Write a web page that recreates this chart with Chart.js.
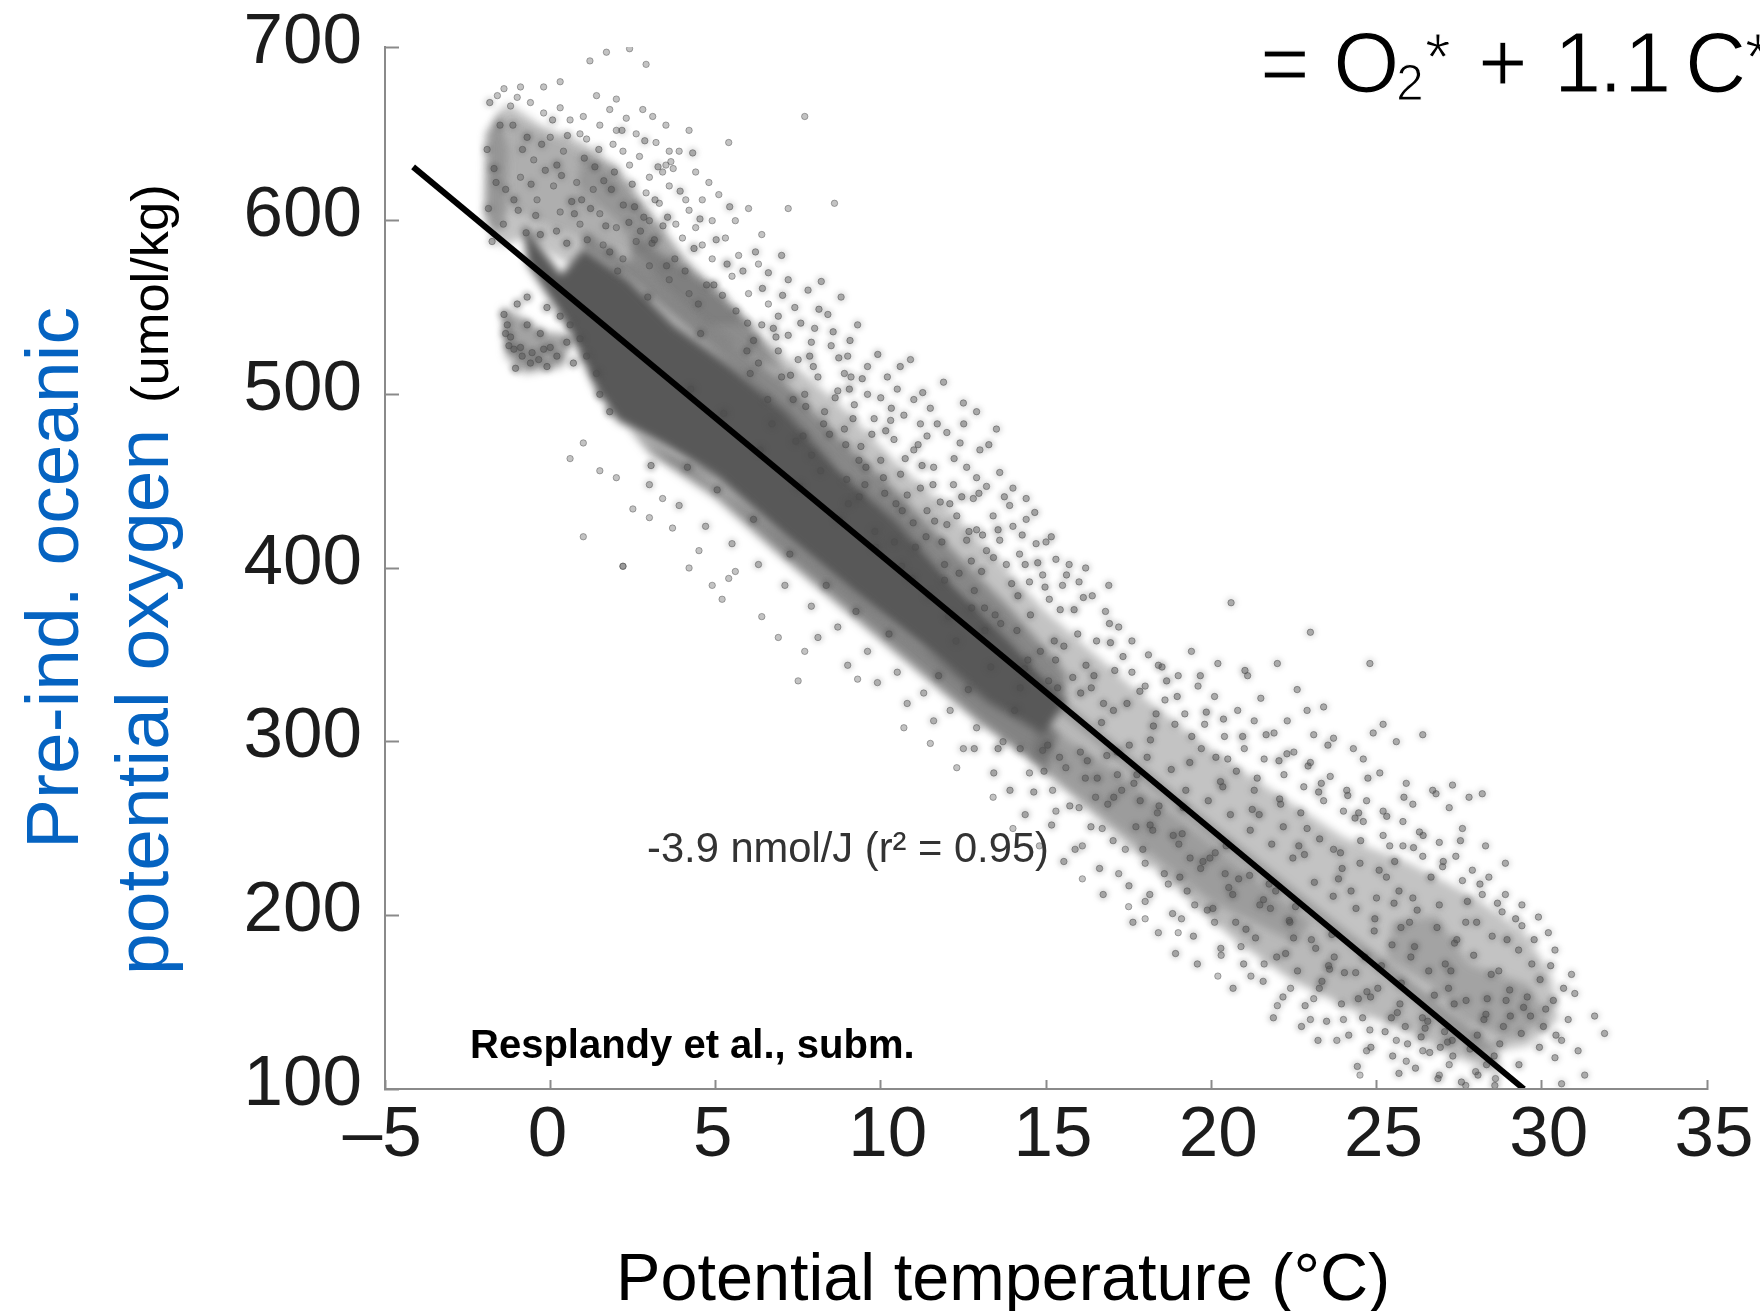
<!DOCTYPE html>
<html><head><meta charset="utf-8">
<style>html,body{margin:0;padding:0;background:#fff}canvas{display:block;filter:blur(.55px)}</style>
<script src="https://cdn.jsdelivr.net/npm/chart.js@4"></script></head>
<body><canvas id="c" width="1760" height="1311"></canvas>
<script>
const xTicks=[-5,0,5,10,15,20,25,30,35];
const xTickLabels=["–5","0","5","10","15","20","25","30","35"];
const yTicks=[100,200,300,400,500,600,700];
const fitLine=[[-4.15,631],[29.46,100]];
// dense regions of the cloud, read as outlines
const coreOutline=[[-0.82,598],[0.33,569],[1.01,584],[2.37,566],[3.73,540],[5.42,517],[7.12,491],[8.82,456],[10.52,427],[12.22,391],[13.91,359],[15.61,323],[14.93,304],[13.23,323],[11.2,356],[9.16,386],[7.12,418],[5.08,452],[3.39,471],[2.03,485],[1.35,504],[0.5,540],[-0.69,575]];
const coldEdgeOutline=[[-1.95,605],[-1.9,650],[-1.5,664],[-1.25,640],[-1.3,605],[-1.7,590]];
const upperOutline=[[-2,600],[-1.95,650],[-1.3,668],[-0.3,655],[1,645],[2,630],[3,605],[4,580],[5,560],[6,540],[7.5,515],[9,490],[10.5,460],[12,435],[13.5,405],[15,375],[16.5,350],[18,325],[20,295],[22,270],[24,245],[26,230],[28,210],[29.5,190],[30.3,165],[30.5,140],[29.6,125],[28,120],[24,186],[20,245],[16,308],[13,355],[10,400],[5,470],[2,520],[1,570],[-0.8,590],[-1.5,585]];
const lowerOutline=[[3,468],[5,445],[7,410],[9,378],[11,346],[13,313],[14.5,290],[16,265],[17.5,240],[19,215],[20.7,186],[22.4,163],[24.1,147],[25.8,134],[27.5,118],[28.8,108],[28.6,124],[24,192],[20,253],[16,316],[12,384],[8,444]];
const upperFringeOutline=[[1,594],[2.4,577],[3.8,554],[5.4,532],[7.1,507],[8.8,474],[10.5,444],[12.2,410],[13.9,377],[15.6,340],[15.6,323],[12.2,391],[8.8,456],[5.4,517],[2.4,566],[1,584]];
const lowerFringeOutline=[[2.4,480],[3,466],[5,440],[7,406],[9,374],[11,342],[13,310],[15,284],[15.4,305],[11.2,356],[7.1,418],[3.4,471]];
const coldRidgeOutline=[[1,640],[2,632],[3.2,600],[4.3,572],[5.4,555],[6,540],[4.8,540],[3.3,565],[2,600],[0.8,620]];
const coldClusterOutline=[[-1.45,550],[-1.35,522],[-0.8,512],[0.4,516],[0.7,534],[-0.2,536],[-0.9,545]];
const coldCapOutline=[[-1.3,660],[0.5,645],[2,625],[3.5,590],[2.5,580],[1,590],[-0.5,600],[-1.2,610]];
const wedgeOutline=[[2.5,592],[4.5,567],[6,542],[7.2,510],[5.4,530],[3.8,552],[2.4,575]];
const warmStreakOutline=[[14.8,312],[17,284],[19,256],[21,226],[23,196],[22.6,184],[20,208],[18,238],[16,268],[14.5,290]];
const warmBlobOutline=[[25.5,196],[26.8,200],[27.8,172],[29.6,160],[30.2,140],[29,128],[27.6,140],[26.6,160],[25.3,175]];
const coldUpperPts=[[1.7,697],[2.4,699],[1.2,692],[2.9,690],[0.3,680],[-0.2,677],[-0.9,677],[-1.4,676],[-1,671],[1.4,672],[2,670],[2.8,664],[3.1,660],[3.5,655],[1.8,664],[2.3,659],[1,660],[0.3,665],[4.2,652],[5.4,645],[2,652],[2.6,650],[3.2,645],[3.9,640],[3.5,632],[4.4,628],[3.6,620],[4.1,612],[5.1,615],[3,625],[2.7,637],[1.5,655],[0.9,650],[4.9,600],[5.3,590],[6,607],[7.2,607],[6.4,592],[5.7,580],[6.3,575],[-0.6,668],[-0.2,662],[0.6,658],[1.1,647],[1.9,644],[2.4,632],[2.9,616],[3.3,610],[3.8,598],[4.4,596],[4.6,586],[4.9,578],[5.5,568],[6,558],[6.6,552],[2.2,640],[3,600],[4,590],[4.2,606],[3.4,628],[3.6,640],[3.65,634],[3.72,630],[4.6,612],[4.8,622],[5.6,600],[-1.6,672],[-1.2,666],[0,648],[0.4,640],[0.8,622],[1.3,618],[-0.5,635],[0.1,620],[-0.9,625],[-0.4,612],[0.3,605],[0.9,598],[1.5,604],[2,596],[2.6,588],[3,574],[2.2,578],[1.6,586],[3.6,566],[4.2,558]];
const midUpperPts=[[7,580],[6.6,570],[7.2,566],[7.8,560],[8.4,546],[9.3,540],[8.8,556],[7.4,550],[8,538],[8.5,528],[9,522],[9.6,516],[10.2,510],[10.5,503],[11,497],[11.5,492],[11.2,483],[12,478],[12.4,472],[13,468],[13.6,455],[14,446],[14.4,440],[7.2,534],[6.4,540],[6.9,525],[7.5,520],[8.1,510],[8.7,502],[9.2,494],[9.8,486],[10.4,474],[11,468],[11.6,458],[12.2,448],[12.8,440],[13.4,430],[14,424],[14.7,414],[15.3,405],[16,392],[16.4,384],[16.8,375],[15.5,390],[14.9,396],[14.2,408],[13.6,416],[12.9,422],[12.3,430],[11.8,438],[11.2,446],[10.6,454],[10,462],[9.4,470],[8.9,480],[8.3,490],[7.7,500],[7,510],[6.3,518],[11.9,507],[12.5,495],[13.5,480],[12.9,490],[10.9,520],[8.2,565],[9.1,510],[10,498],[10.7,488],[11.4,476],[12.6,458],[13.2,447],[13.9,436],[15,415],[15.7,402],[16.2,400],[16.9,390],[17.2,366],[17.6,358],[18.1,350],[14.4,428],[12.9,452],[10.3,485],[9.6,500],[8.9,512],[7.9,530],[6.9,545],[15.1,382],[14.5,392],[13.8,402],[13.2,410],[12.6,416],[12,425],[11.4,433],[10.8,442]];
const warmUpperPts=[[20.6,380],[23,363],[24.8,345],[26.4,304],[22,345],[18.4,344],[19,338],[19.6,332],[20.1,326],[20.8,318],[21.3,312],[21.9,305],[22.5,294],[23,288],[23.6,280],[24.1,272],[24.7,266],[25.2,260],[25.8,254],[26.3,248],[26.9,242],[27.4,234],[27.9,226],[28.4,222],[28.9,212],[29.4,206],[29.9,199],[30.2,190],[30.4,180],[17.6,340],[18,332],[18.6,324],[19.2,316],[19.8,310],[20.4,303],[21,296],[21.6,290],[22.2,281],[22.8,274],[23.4,266],[24,260],[24.6,254],[25.2,246],[25.8,240],[26.4,234],[27,228],[27.6,220],[28.2,212],[28.8,202],[29.4,194],[21.5,325],[22.3,312],[23.1,304],[24.3,296],[25.1,282],[25.9,276],[26.7,272],[27.2,262],[26.1,264],[27.6,250],[28.3,240],[28.9,230],[23.7,302],[24.6,290],[22.9,318],[21.1,338],[20.2,345],[19.4,352],[26.8,270],[27.3,275],[23.4,320],[22.6,330],[24.9,305],[25.6,300],[25.2,310],[28.2,270],[27.8,268],[30.9,166],[31,155],[31.6,142],[31.9,132],[30.8,140],[30.6,128],[30.4,118],[31.1,122],[31.3,108],[30.6,103],[18.9,310],[19.7,296],[20.5,290],[21.3,272],[22.1,264],[22.9,250],[23.7,238],[24.5,230],[25.3,222],[26.1,210],[26.9,206],[27.7,196],[28.5,188],[29.3,180],[25,210],[26,196],[25.4,240],[28.7,168],[29.7,172]];
const warmLowerPts=[[13.7,300],[14.5,282],[15.2,272],[16,262],[16.7,250],[17.4,238],[18,230],[18.7,218],[19.5,206],[20.1,196],[20.9,182],[21.6,172],[22.4,158],[23.1,152],[24,140],[24.8,134],[25.6,128],[26.4,122],[27.2,114],[28,110],[28.6,106],[17.2,224],[18,208],[19.1,198],[18.4,190],[20.3,177],[21.2,165],[22,148],[23,140],[23.8,128],[24.7,122],[25.9,116],[26.9,108],[27.7,102],[16.5,268],[15.6,285],[14.9,295],[16.1,240],[15.3,260],[12.9,308],[12.1,318],[11.3,328],[10.5,340],[9.6,352],[8.7,366],[7.9,378],[7.1,390],[6.3,402],[5.5,414],[4.7,424],[3.9,436],[3,448],[12.5,296],[11.6,312],[10.8,322],[9.9,334],[9,344],[8.1,360]];
const lowerColdPts=[[-1.4,546],[-1.35,535],[-1.2,533],[-1.1,526],[-0.85,522],[-0.6,518],[-0.35,520],[-0.1,516],[0,527],[-0.7,540],[-0.3,535],[0.2,522],[0.5,530],[0.7,518],[-1,552],[-0.7,556],[-0.1,550],[0.3,545],[0.6,540],[0.9,532],[1.1,522],[1.4,512],[1.5,500],[1.8,490],[-1.25,528],[-1.3,540],[-0.9,527],[-0.55,524],[-0.2,526],[-1.05,515]];
const outlierPts=[[7.7,660],[8.6,610],[1,418],[2.2,401],[2.2,401],[1,472],[1.5,456],[2,452],[3.4,440],[3.7,423],[5.4,394],[7.7,352],[7.5,335],[9.3,336],[10.7,308],[11.5,299],[4.5,410],[4.2,400],[4.9,390],[5.6,398],[5.2,382],[0.6,463],[2.5,434],[3,429],[6.4,372],[6.9,360],[12.3,285],[13.4,268],[14,250],[14.8,240],[17.5,205],[18,198],[19,190],[16.1,221],[20.2,165],[24.5,108]];
const mottlePts=[[-1.7,630],[-1.1,612],[-0.7,648],[0.2,632],[0.65,611],[1.35,631],[1.85,618],[2.55,608],[3.15,589],[3.55,602],[4.35,584],[4.95,563],[5.35,575],[6.15,531],[6.75,538],[7.35,497],[7.85,522],[8.45,477],[9.05,503],[9.55,458],[10.15,479],[10.65,433],[11.25,459],[11.85,415],[12.45,441],[13.05,398],[13.55,422],[14.15,384],[14.75,403],[15.25,358],[15.85,376],[16.45,338],[16.95,357],[17.45,322],[18.25,309],[18.65,335],[19.35,288],[19.85,317],[20.35,274],[20.95,303],[21.45,258],[22.05,289],[22.65,240],[23.25,271],[23.85,221],[24.35,256],[24.95,198],[25.55,231],[26.15,182],[26.65,222],[27.25,168],[27.75,208],[28.35,152],[28.95,186],[29.45,147],[29.95,163],[30.35,151],[28.05,131],[27.35,149],[26.55,139],[25.75,161],[24.65,176],[23.55,171],[22.55,205],[21.75,218],[20.65,212],[19.75,231],[18.85,246],[17.85,266],[17.15,294],[16.25,289],[15.35,331],[14.35,342],[13.15,364],[12.05,372],[10.95,394],[9.85,412],[8.75,428],[7.55,447],[6.35,468],[5.25,489],[4.25,503],[-0.3,592],[0.5,587],[1.8,582],[2.95,556],[4.55,535],[5.95,525],[7.65,476],[9.35,441],[11.05,412],[12.75,377],[14.45,347],[16.05,328],[17.75,281],[19.15,262],[20.45,240],[21.95,214],[23.65,189],[25.15,171],[26.75,154],[28.25,140],[29.05,142],[30.05,136],[19.05,222],[20.05,204],[21.05,192],[22.25,178],[23.35,162],[24.45,152],[25.45,141],[26.35,130],[27.15,127],[18.15,252],[17.05,268],[16.55,279],[15.05,298],[14.05,318],[13.55,296],[12.65,330],[11.75,338],[10.25,362],[9.25,375],[8.35,390],[7.25,408],[6.15,428],[5.05,445],[4.15,458],[3.05,459]];
const speckleCold=[[-1.83,668],[-1.52,655],[-1.91,641],[-1.64,622],[-1.87,607],[-1.42,598],[-1.13,655],[-0.84,641],[-0.97,606],[-0.58,621],[-0.26,644],[0.07,658],[0.34,626],[0.52,649],[0.73,604],[1.03,636],[1.22,607],[1.47,641],[1.68,597],[1.94,628],[2.17,652],[2.21,609],[2.48,621],[2.73,594],[2.86,646],[3.08,587],[3.26,631],[3.41,597],[3.77,578],[3.93,617],[4.08,571],[4.31,639],[4.53,601],[4.73,563],[5.02,589],[5.21,557],[5.43,608],[5.62,548],[5.83,571],[5.97,541],[6.21,582],[-1.76,588],[-1.35,618],[-0.44,603],[0.19,594],[1.12,589],[2.04,571],[2.83,602],[3.52,574],[4.48,552],[1.62,623],[2.38,599],[3.17,612],[0.95,612],[-0.15,629],[-0.73,593]];
const speckleMid=[[6.42,561],[6.83,533],[7.03,557],[7.27,511],[7.58,541],[7.73,493],[7.96,516],[8.13,549],[8.27,483],[8.56,536],[8.62,498],[8.94,471],[9.07,531],[9.16,486],[9.44,509],[9.52,448],[9.73,477],[9.91,523],[10.08,452],[10.32,492],[10.46,437],[10.59,516],[10.74,463],[10.98,426],[11.13,471],[11.27,501],[11.37,418],[11.58,448],[11.71,483],[11.93,402],[12.09,437],[12.22,463],[12.37,397],[12.51,483],[12.67,421],[12.83,387],[12.97,443],[13.14,377],[13.27,471],[13.41,406],[13.63,368],[13.74,441],[13.96,391],[14.12,364],[14.28,419],[14.53,373],[14.66,432],[14.83,352],[14.97,389],[15.16,418],[15.29,347],[15.43,376],[15.62,396],[15.81,337],[15.96,362],[16.13,383],[16.37,331],[16.53,358],[16.74,322],[16.92,368],[17.08,341],[6.05,512],[6.58,497],[7.43,473],[8.18,456],[9.02,437],[9.82,421],[10.63,401],[11.46,384],[12.28,358],[13.33,343],[14.22,331],[15.08,335],[8.73,521],[10.12,443],[11.63,427],[13.08,419],[14.37,402],[9.34,462],[12.74,404],[15.54,355],[6.71,483],[7.91,465],[8.97,451],[10.41,415],[11.93,393],[13.46,373]];
const speckleWarmUpper=[[16.21,344],[16.68,311],[17.04,318],[17.33,349],[17.52,298],[17.84,329],[18.06,291],[18.33,316],[18.51,343],[18.79,284],[18.97,326],[19.23,272],[19.41,303],[19.67,338],[19.91,266],[20.14,291],[20.37,313],[20.58,258],[20.76,283],[21.02,341],[21.18,249],[21.39,279],[21.66,304],[21.83,241],[22.07,267],[22.29,293],[22.47,233],[22.71,259],[22.93,286],[23.12,219],[23.28,244],[23.53,298],[23.69,211],[23.91,236],[24.13,269],[24.38,204],[24.52,243],[24.74,279],[24.93,191],[25.08,226],[25.31,257],[25.47,183],[25.68,214],[25.83,268],[26.04,176],[26.23,203],[26.41,246],[26.58,168],[26.83,193],[27.02,231],[27.18,158],[27.36,184],[27.54,243],[27.71,151],[27.94,177],[28.13,218],[28.31,143],[28.47,166],[28.66,207],[28.84,136],[29.03,157],[29.21,198],[29.38,132],[29.56,153],[29.77,186],[29.93,124],[30.12,146],[30.27,171],[30.43,131],[30.66,158],[16.84,292],[17.66,276],[18.42,263],[19.12,247],[19.96,233],[20.83,221],[21.58,209],[22.36,197],[23.16,181],[24.03,167],[24.82,153],[25.63,144],[26.47,135],[27.29,128],[28.56,119],[29.31,114],[21.24,261],[22.82,235],[24.23,214],[25.74,193],[27.08,172],[28.92,151],[18.16,301],[20.28,277],[22.18,251],[23.96,227],[25.53,207],[27.43,186],[26.12,239],[24.46,259],[23.33,276],[28.03,196],[29.66,142],[28.73,126]];
const speckleWarmLower=[[14.22,296],[14.63,271],[14.94,283],[15.17,252],[15.41,291],[15.72,263],[15.88,238],[16.19,279],[16.36,251],[16.62,227],[16.87,264],[17.03,243],[17.29,272],[17.51,217],[17.72,251],[17.93,238],[18.14,212],[18.37,259],[18.58,224],[18.83,201],[19.02,241],[19.27,214],[19.46,188],[19.68,227],[19.88,203],[20.12,236],[20.29,181],[20.53,216],[20.74,196],[20.98,172],[21.16,223],[21.34,187],[21.57,162],[21.79,204],[21.98,176],[22.17,153],[22.38,196],[22.61,168],[22.84,148],[23.03,186],[23.27,158],[23.49,139],[23.72,176],[23.94,149],[24.16,131],[24.37,167],[24.58,141],[24.83,124],[25.04,158],[25.26,133],[25.49,119],[25.71,149],[25.94,126],[26.18,112],[26.39,141],[26.61,121],[26.86,106],[27.06,133],[27.31,119],[27.57,104],[27.83,123],[28.07,108],[28.33,114],[28.58,102],[16.04,294],[17.16,281],[18.23,249],[19.36,233],[20.42,224],[21.47,206],[22.49,187],[23.58,169],[24.71,156],[25.87,136],[26.93,124],[13.42,282],[12.83,296],[13.91,272],[14.37,258],[15.54,231],[16.73,212],[17.63,196],[18.92,178],[20.66,158],[21.88,141],[23.23,128],[24.42,113],[25.68,109],[19.58,172],[22.73,136],[27.48,97]];
const pairs=a=>a.map(p=>({x:p[0],y:p[1]}));
const poly=(a,alpha)=>({type:'line',data:pairs(a),fill:'shape',backgroundColor:`rgba(88,88,88,${alpha})`,borderWidth:0,borderColor:'transparent',pointRadius:0,tension:0});
const pts=(a,alpha)=>({type:'scatter',data:pairs(a),backgroundColor:`rgba(78,78,78,${alpha})`,borderColor:`rgba(78,78,78,${alpha+.12})`,borderWidth:1,pointRadius:3.2});
const soft=(a,alpha)=>({type:'scatter',softLayer:true,data:pairs(a),backgroundColor:`rgba(70,70,70,${alpha})`,borderWidth:0,pointRadius:6});
const notes={
  beforeDraw(c){c.ctx.filter='blur(4px)';},
  beforeDatasetsDraw(c){c.ctx.filter='none';},
  beforeDatasetDraw(c,a){c.ctx.filter=c.data.datasets[a.index].softLayer?'blur(2.5px)':'none';},
  afterDatasetDraw(c){c.ctx.filter='none';},
  afterDraw(c){
    const x=c.ctx;x.save();x.textBaseline='alphabetic';x.textAlign='left';
    const f='"Liberation Sans",Arial,sans-serif';
    x.fillStyle='#000';
    x.font='66.6px '+f;x.fillText('Potential temperature (°C)',616,1300);
    x.fillStyle='#333';x.font='41.7px '+f;x.fillText('-3.9 nmol/J (r² = 0.95)',647,862);
    x.fillStyle='#000';x.font='bold 40px '+f;x.fillText('Resplandy et al., subm.',470,1058);
    const thin=(t,px,py,size)=>{x.font=size+'px '+f;x.fillStyle='#000';x.fillText(t,px,py);x.strokeStyle='#fff';x.lineWidth=1.2;x.strokeText(t,px,py);};
    thin('= O',1260,92,85);thin('2',1396,100,50);thin('*',1425,80,66);
    thin('+',1478,92,85);thin('1',1554,92,85);thin('.',1599,92,85);thin('1',1624,92,85);thin('C',1685,92,85);thin('*',1745,80,66);
    const rot=(t,bx,by,font,col)=>{x.save();x.translate(bx,by);x.rotate(-Math.PI/2);x.font=font;x.fillStyle=col;x.fillText(t,0,0);x.restore();};
    rot('Pre-ind. oceanic',78,849,'75px '+f,'#0563c1');
    rot('potential oxygen',168,975,'75px '+f,'#0563c1');
    rot('(umol/kg)',168,403,'52.5px '+f,'#000');
    x.restore();
  }
};
new Chart(document.getElementById('c'),{
  type:'scatter',
  data:{datasets:[
    {type:'line',data:pairs(fitLine),borderColor:'#000',borderWidth:6,pointRadius:0,fill:false,tension:0},
    pts(outlierPts,.34),pts(coldUpperPts,.34),pts(midUpperPts,.4),pts(warmUpperPts,.4),pts(warmLowerPts,.36),pts(lowerColdPts,.42),pts(mottlePts,.42),
    pts(speckleCold,.4),pts(speckleMid,.42),pts(speckleWarmUpper,.42),pts(speckleWarmLower,.4),
    soft(mottlePts,.3),soft(speckleCold,.16),soft(speckleMid,.2),soft(speckleWarmUpper,.22),soft(speckleWarmLower,.2),soft(midUpperPts,.16),soft(warmUpperPts,.14),soft(warmLowerPts,.16),soft(lowerColdPts,.3),
    poly(coreOutline,1),poly(warmBlobOutline,.3),poly(warmStreakOutline,.3),poly(lowerFringeOutline,.55),poly(upperFringeOutline,.55),poly(wedgeOutline,.5),poly(coldEdgeOutline,.42),poly(coldRidgeOutline,.28),poly(coldCapOutline,.2),poly(coldClusterOutline,.55),
    poly(lowerOutline,.42),poly(upperOutline,.36)
  ]},
  options:{
    responsive:false,animation:false,
    layout:{padding:{top:47,right:53,left:0,bottom:0}},
    plugins:{legend:{display:false},tooltip:{enabled:false},filler:{drawTime:'beforeDatasetsDraw'}},
    scales:{
      x:{type:'linear',min:-5,max:35,position:'bottom',
        afterFit(s){s.height=222;s.paddingLeft=0;s.paddingRight=0;s.paddingTop=0;s.paddingBottom=0;},
        afterBuildTicks(s){s.ticks=xTicks.map(v=>({value:v}));},
        grid:{drawOnChartArea:false,color:'#8a8a8a',tickLength:-9,tickWidth:2,z:1},
        border:{color:'#8a8a8a',width:2,z:1},
        ticks:{z:1,autoSkip:false,maxRotation:0,padding:14,labelOffset:7,color:'#1c1c1c',font:{family:'"Liberation Sans",Arial,sans-serif',size:71},
          callback(v){const s=xTickLabels[xTicks.indexOf(v)];return s.length<2||s[0]==='–'?s+'\u00A0':s;}}},
      y:{type:'linear',min:100,max:700,position:'left',
        afterFit(s){s.width=385;s.paddingLeft=0;s.paddingRight=0;s.paddingTop=0;s.paddingBottom=0;},
        afterBuildTicks(s){s.ticks=yTicks.map(v=>({value:v}));},
        grid:{drawOnChartArea:false,color:'#8a8a8a',tickLength:-14,tickWidth:2,z:1},
        border:{color:'#8a8a8a',width:2,z:1},
        ticks:{z:1,autoSkip:false,padding:37,labelOffset:-4,color:'#1c1c1c',font:{family:'"Liberation Sans",Arial,sans-serif',size:71}}}
    }
  },
  plugins:[notes]
});
</script></body></html>
